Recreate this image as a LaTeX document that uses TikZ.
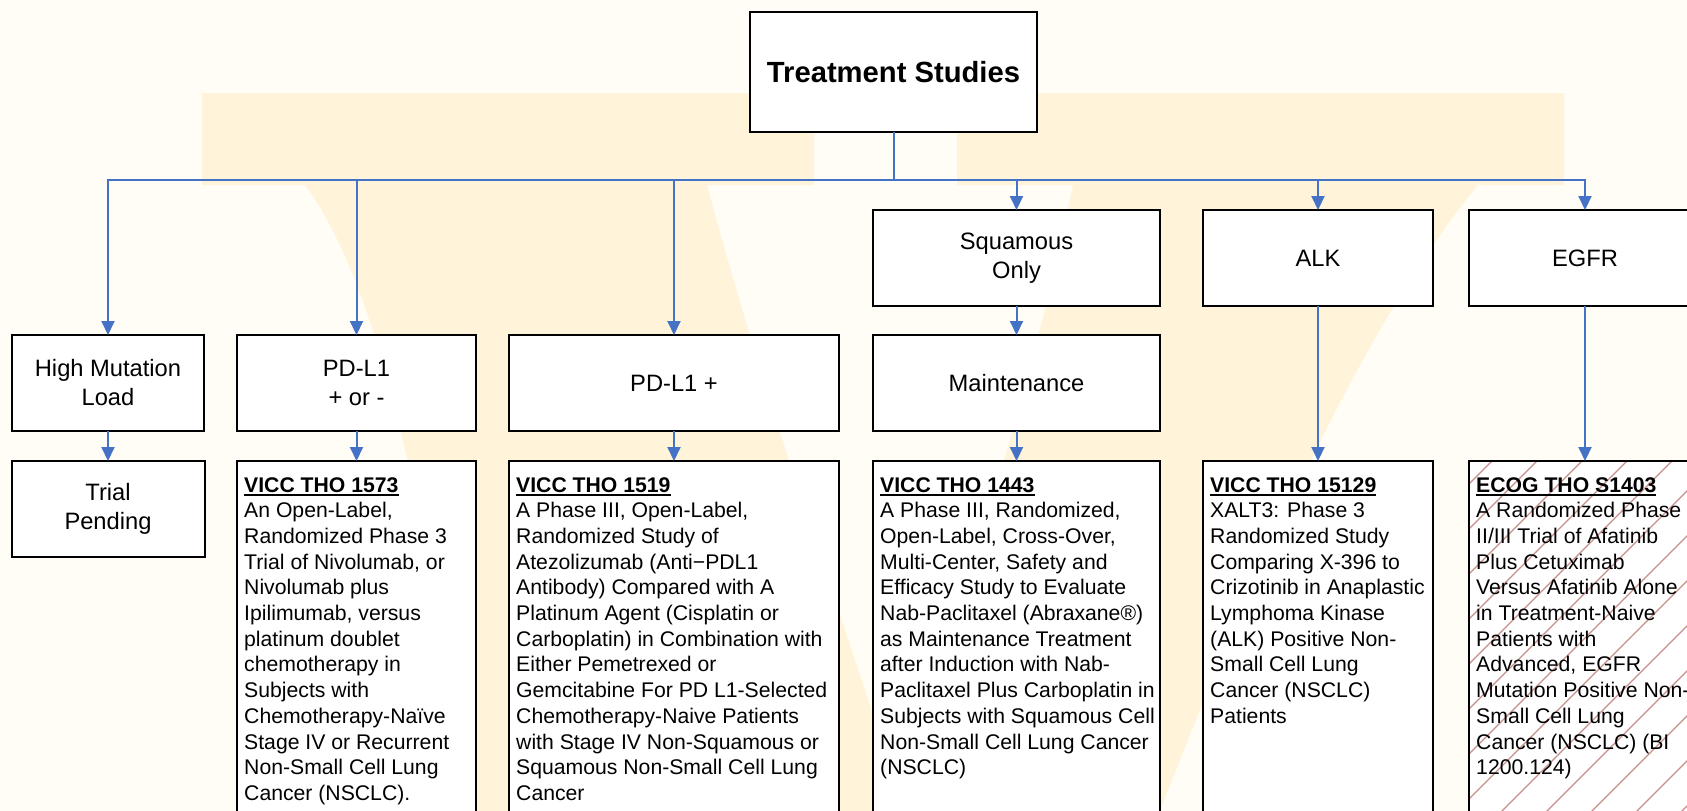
\documentclass[tikz,border=0pt]{standalone}
\usepackage{fontspec}
\setmainfont{Liberation Sans}
\usetikzlibrary{arrows.meta,calc}
\definecolor{conn}{HTML}{4472C4}
\definecolor{bgc}{HTML}{FFFDF6}
\definecolor{vlogo}{HTML}{FFF3D9}
\definecolor{hatchc}{RGB}{200,142,138}
\newcommand{\ulbold}[1]{\setbox0\hbox{\bfseries #1}\vtop{\copy0\kern2.2pt\hrule height 1.6pt width \wd0}}
\begin{document}
\begin{tikzpicture}[x=1pt,y=-1pt,
  box/.style={draw=black,line width=2pt,fill=white,inner sep=0pt,outer sep=0pt},
  lbl/.style={font=\fontsize{23.7pt}{29pt}\selectfont,align=center},
  desc/.style={font=\fontsize{21.2pt}{25.7pt}\selectfont,align=left,inner sep=0pt,anchor=north west},
  link/.style={draw=conn,line width=2pt},
  arr/.style={link,-{Triangle[length=14pt,width=13pt]}},
  hatchline/.style={draw=hatchc,line width=1.3pt}]
\useasboundingbox (0,0) rectangle (1687,811);
\clip (0,0) rectangle (1687,811);
\fill[bgc] (0,0) rectangle (1687,811);
% faint watermark
\fill[vlogo] (202,93) -- (814,93) -- (814,185) -- (707,185) .. controls (770,420) and (850,640) .. (905,811) -- (470,811) .. controls (430,560) and (390,300) .. (305,185) -- (202,185) -- cycle;
\fill[vlogo] (957,93) -- (1564,93) -- (1564,185) -- (1478,185) .. controls (1400,280) and (1300,450) .. (1160,811) -- (895,811) .. controls (960,600) and (1030,400) .. (1073,185) -- (957,185) -- cycle;

% boxes
\node[box,minimum width=287pt,minimum height=120pt,font=\fontsize{29.2pt}{35pt}\selectfont\bfseries] (top) at (893.5,72) {Treatment Studies};

\node[box,lbl,minimum width=192pt,minimum height=96pt] (hml) at (108,383) {High Mutation\\Load};
\node[box,lbl,minimum width=239pt,minimum height=96pt] (pdpm) at (356.5,383) {PD-L1\\+ or -};
\node[box,lbl,minimum width=330pt,minimum height=96pt] (pdp) at (674,383) {PD-L1 +};
\node[box,lbl,minimum width=287pt,minimum height=96pt] (squam) at (1016.5,258) {Squamous\\Only};
\node[box,lbl,minimum width=287pt,minimum height=96pt] (maint) at (1016.5,383) {Maintenance};
\node[box,lbl,minimum width=230pt,minimum height=96pt] (alk) at (1318,258) {ALK};
\node[box,lbl,minimum width=232pt,minimum height=96pt] (egfr) at (1585,258) {EGFR};

\node[box,lbl,minimum width=193pt,minimum height=96pt] (trial) at (108,509) {Trial\\Pending};
\node[box,minimum width=239pt,minimum height=379pt] (s1573) at (356.5,650.5) {};
\node[box,minimum width=330pt,minimum height=379pt] (s1519) at (674,650.5) {};
\node[box,minimum width=287pt,minimum height=379pt] (s1443) at (1016.5,650.5) {};
\node[box,minimum width=230pt,minimum height=379pt] (s15129) at (1318,650.5) {};
\node[box,minimum width=232pt,minimum height=379pt] (ecog) at (1585,650.5) {};

% hatching of the ECOG box
\begin{scope}
\clip ([xshift=1pt,yshift=-1pt]ecog.north west) rectangle ([xshift=-1pt,yshift=1pt]ecog.south east);
\foreach \k in {0,...,16} \draw[hatchline] (1058+45*\k,850) -- ++(420,-420);
\end{scope}

% connectors
\coordinate (hub) at (893.5,180);
\draw[link] (top.south) -- (hub);
\foreach \n in {hml,pdpm,pdp,squam,alk,egfr} \draw[arr] (hub) -| (\n.north);
\draw[arr] (hml.south) -- (trial.north);
\draw[arr] (pdpm.south) -- (s1573.north);
\draw[arr] (pdp.south) -- (s1519.north);
\draw[arr] (squam.south) -- (maint.north);
\draw[arr] (maint.south) -- (s1443.north);
\draw[arr] (alk.south) -- (s15129.north);
\draw[arr] (egfr.south) -- (ecog.north);

% texts of the study boxes
\node[desc] (t1573) at ($(s1573.north west)+(7,16)$) {\ulbold{VICC THO 1573}\\An Open-Label,\\Randomized Phase 3\\Trial of Nivolumab, or\\Nivolumab plus\\Ipilimumab, versus\\platinum doublet\\chemotherapy in\\Subjects with\\Chemotherapy-Naïve\\Stage IV or Recurrent\\Non-Small Cell Lung\\Cancer (NSCLC).};
\node[desc] (t1519) at ($(s1519.north west)+(7,16)$) {\ulbold{VICC THO 1519}\\A Phase III, Open-Label,\\Randomized Study of\\Atezolizumab (Anti−PDL1\\Antibody) Compared with A\\Platinum Agent (Cisplatin or\\Carboplatin) in Combination with\\Either Pemetrexed or\\Gemcitabine For PD L1-Selected\\Chemotherapy-Naive Patients\\with Stage IV Non-Squamous or\\Squamous Non-Small Cell Lung\\Cancer};
\node[desc] (t1443) at ($(s1443.north west)+(7,16)$) {\ulbold{VICC THO 1443}\\A Phase III, Randomized,\\Open-Label, Cross-Over,\\Multi-Center, Safety and\\Efficacy Study to Evaluate\\Nab-Paclitaxel (Abraxane®)\\as Maintenance Treatment\\after Induction with Nab-\\Paclitaxel Plus Carboplatin in\\Subjects with Squamous Cell\\Non-Small Cell Lung Cancer\\(NSCLC)};
\node[desc] (t15129) at ($(s15129.north west)+(7,16)$) {\ulbold{VICC THO 15129}\\XALT3: Phase 3\\Randomized Study\\Comparing X-396 to\\Crizotinib in Anaplastic\\Lymphoma Kinase\\(ALK) Positive Non-\\Small Cell Lung\\Cancer (NSCLC)\\Patients};
\node[desc] (tecog) at ($(ecog.north west)+(7,16)$) {\ulbold{ECOG THO S1403}\\A Randomized Phase\\II/III Trial of Afatinib\\Plus Cetuximab\\Versus Afatinib Alone\\in Treatment-Naive\\Patients with\\Advanced, EGFR\\Mutation Positive Non-\\Small Cell Lung\\Cancer (NSCLC) (BI\\1200.124)};
\end{tikzpicture}
\end{document}
